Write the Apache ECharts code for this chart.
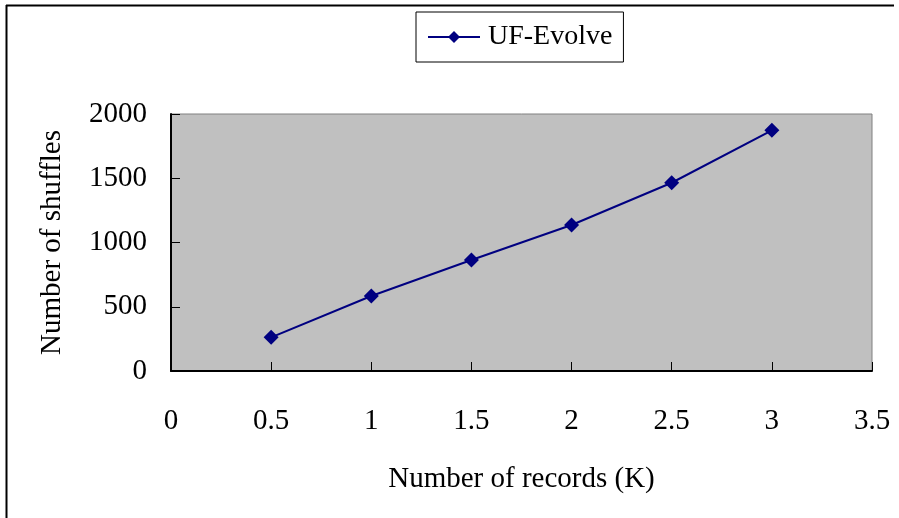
<!DOCTYPE html>
<html><head><meta charset="utf-8">
<script src="https://cdn.jsdelivr.net/npm/echarts@6/dist/echarts.min.js"></script>
<style>html,body{margin:0;padding:0;background:#fff}#c{width:899px;height:518px}</style>
</head><body><div id="c"></div>
<script>
var records = [0.5, 1, 1.5, 2, 2.5, 3];
var shuffles = [262, 584, 864, 1136, 1465, 1873];
var seriesName = 'UF-Evolve';
var xTitle = 'Number of records (K)';
var yTitle = 'Number of shuffles';

var FONT = 'Liberation Serif';
var chart = echarts.init(document.getElementById('c'), null, {renderer: 'canvas'});
chart.setOption({
  animation: false,
  backgroundColor: '#fff',
  textStyle: {fontFamily: FONT},
  graphic: [
    {type: 'line', shape: {x1: 6, y1: 5.5, x2: 894, y2: 5.5}, style: {stroke: '#000', lineWidth: 2}},
    {type: 'line', shape: {x1: 6.5, y1: 5, x2: 6.5, y2: 518}, style: {stroke: '#000', lineWidth: 2}}
  ],
  legend: {
    left: 416, top: 12,
    padding: [11, 11, 11, 11],
    borderColor: '#000', borderWidth: 1,
    itemWidth: 52, itemHeight: 15,
    textStyle: {fontFamily: FONT, fontSize: 28, color: '#000', padding: [0, 0, 0, 3]},
    data: [seriesName]
  },
  grid: {
    left: 171, top: 114, right: 27, bottom: 147,
    show: true, backgroundColor: '#C0C0C0', borderColor: '#808080', borderWidth: 1
  },
  xAxis: {
    type: 'value', min: 0, max: 3.5, interval: 0.5,
    name: xTitle, nameLocation: 'middle', nameGap: 94,
    nameTextStyle: {fontFamily: FONT, fontSize: 29, color: '#000'},
    axisLine: {show: true, lineStyle: {color: '#000', width: 2}},
    axisTick: {show: true, inside: true, length: 9, lineStyle: {color: '#000', width: 1}},
    axisLabel: {fontFamily: FONT, fontSize: 29, color: '#000', margin: 36},
    splitLine: {show: false}
  },
  yAxis: {
    type: 'value', min: 0, max: 2000, interval: 500,
    name: yTitle, nameLocation: 'middle', nameGap: 104,
    nameTextStyle: {fontFamily: FONT, fontSize: 29, color: '#000'},
    axisLine: {show: true, lineStyle: {color: '#000', width: 2}},
    axisTick: {show: true, inside: true, length: 9, lineStyle: {color: '#000', width: 1}},
    axisLabel: {fontFamily: FONT, fontSize: 29, color: '#000', margin: 24,
      formatter: function (v) { return String(v); }},
    splitLine: {show: false}
  },
  series: [{
    name: seriesName, type: 'line',
    data: records.map(function (r, i) { return [r, shuffles[i]]; }),
    symbol: 'diamond', symbolSize: 15,
    lineStyle: {color: '#000080', width: 2},
    itemStyle: {color: '#000080'}
  }]
});
</script></body></html>
